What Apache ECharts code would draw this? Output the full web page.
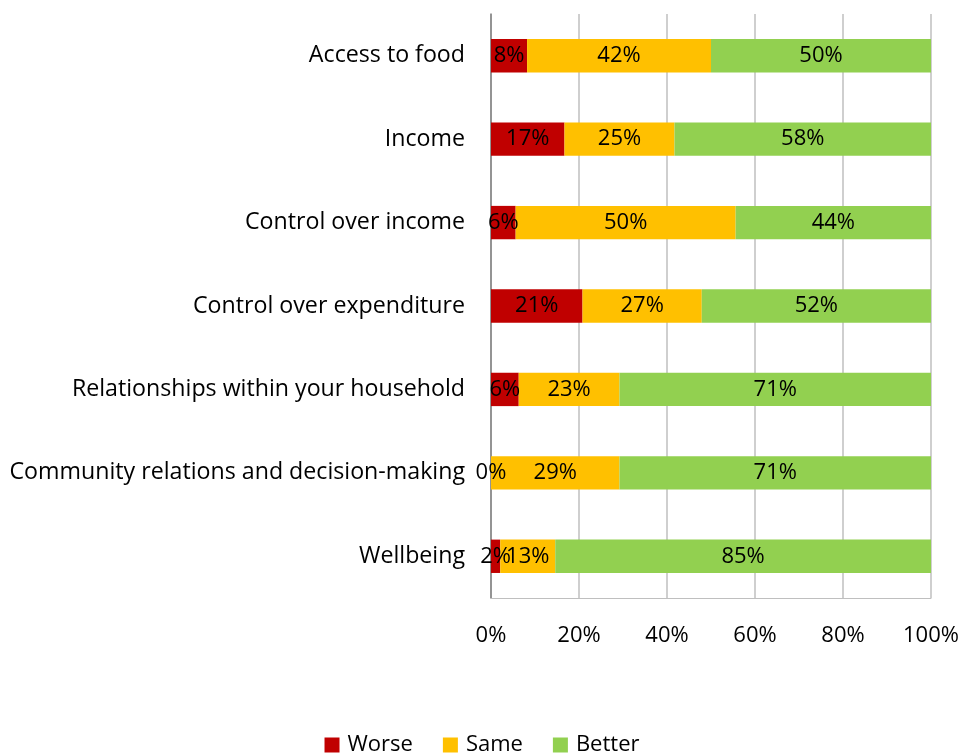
<!DOCTYPE html>
<html><head><meta charset="utf-8">
<script src="https://cdn.jsdelivr.net/npm/echarts@6/dist/echarts.min.js"></script>
<style>html,body{margin:0;padding:0;background:#fff}#c{width:964px;height:755px}</style>
</head><body><div id="c"></div>
<script>
const categories = ["Access to food","Income","Control over income","Control over expenditure","Relationships within your household","Community relations and decision-making","Wellbeing"];
const worse = [8.2, 16.7, 5.6, 20.8, 6.3, 0, 2.1];
const same = [41.8, 25.0, 50.0, 27.1, 22.9, 29.2, 12.5];
const better = [50.0, 58.3, 44.4, 52.1, 70.8, 70.8, 85.4];
const xTicks = [0, 20, 40, 60, 80, 100];
const F = '"Open Sans", sans-serif';
const chart = echarts.init(document.getElementById('c'));
const lbl = {show:true, position:'inside', color:'#000', fontFamily:F, fontSize:22, formatter:p=>Math.round(p.value)+'%'};
function s(name, data, color){return {name, type:'bar', stack:'a', data, barCategoryGap:'60%', itemStyle:{color}, label:lbl};}
chart.setOption({
  animation:false,
  grid:{left:491, right:33, top:14, bottom:157},
  legend:{bottom:-6, left:'center', itemWidth:15, itemHeight:15, itemGap:30, icon:'rect', textStyle:{fontFamily:F, fontSize:22, color:'#000', padding:[0,0,0,3]}, data:['Worse','Same','Better']},
  xAxis:{type:'value', min:0, max:100, interval:20, axisLine:{show:true, lineStyle:{color:'#bfbfbf'}}, axisTick:{show:false}, splitLine:{lineStyle:{color:'#bfbfbf', width:1.5}},
    axisLabel:{fontFamily:F, fontSize:22, color:'#000', margin:27, formatter:v=>xTicks.includes(v)?v+'%':''}},
  yAxis:{type:'category', data:categories, inverse:true, axisLine:{lineStyle:{color:'#808080', width:1.5}}, axisTick:{show:false},
    axisLabel:{fontFamily:F, fontSize:23.2, color:'#000', margin:26}},
  series:[s('Worse', worse, '#C00000'), s('Same', same, '#FFC000'), s('Better', better, '#92D050')]
});
</script></body></html>
